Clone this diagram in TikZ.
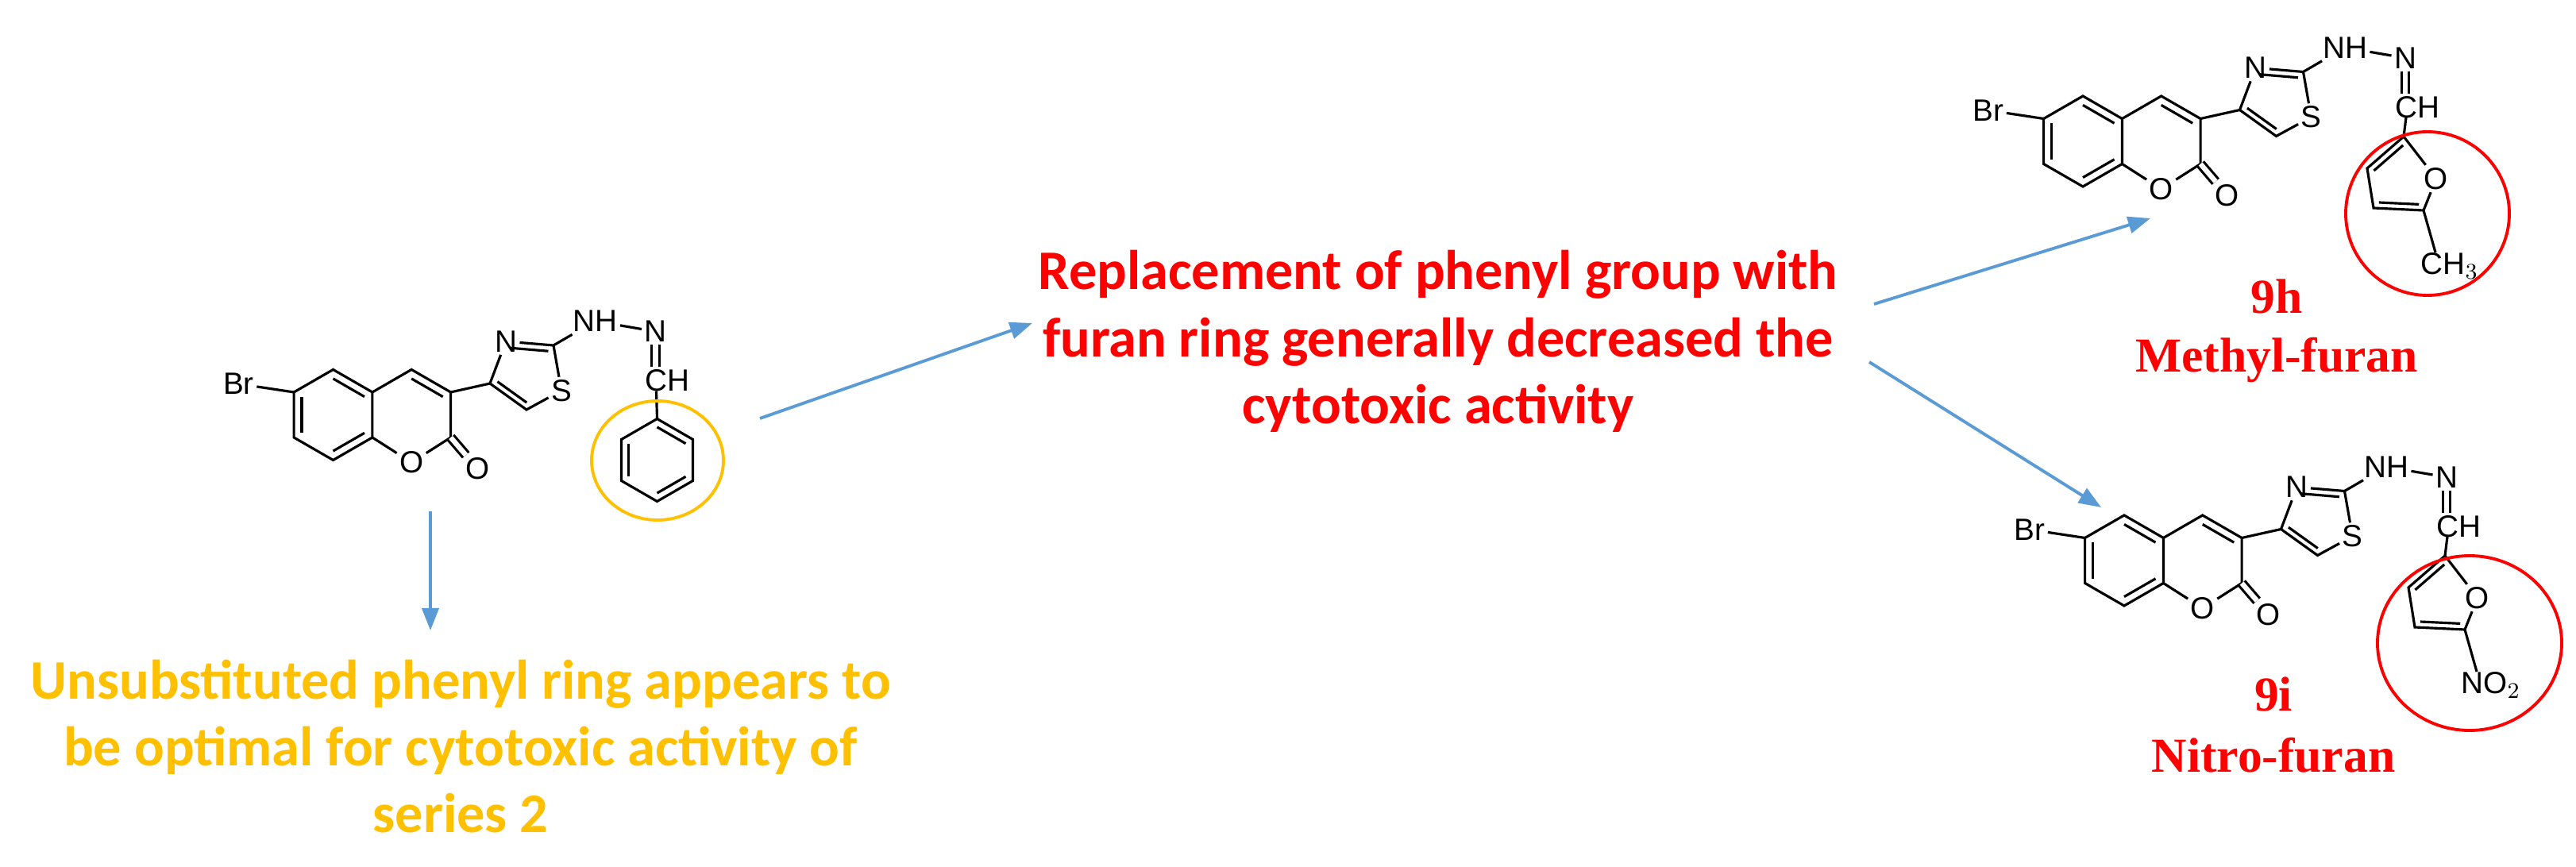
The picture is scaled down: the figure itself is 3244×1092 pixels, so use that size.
\documentclass[tikz,border=0pt]{standalone}
\usepackage{fontspec}
\setmainfont{Liberation Sans}
\newfontfamily\calfnt{Carlito}
\newfontfamily\tmsfnt{Liberation Serif}
\usetikzlibrary{calc,arrows.meta}
\definecolor{arrblue}{HTML}{5B9BD5}
\definecolor{orng}{HTML}{FFC000}
\definecolor{rd}{HTML}{FF0000}
\tikzset{
  bond/.style={line width=0.9pt,black},
  atom/.style={inner sep=0.8pt,font=\fontsize{11}{12}\selectfont},
  dbl/.style={line width=0.9pt,double,double distance=1.8pt},
  arr/.style={line width=1.1pt,arrblue,-{Triangle[length=8pt,width=6pt]}},
  ctext/.style={align=center,font=\calfnt\bfseries\fontsize{20}{24}\selectfont},
  lbl/.style={rd,font=\tmsfnt\bfseries\fontsize{17.5}{20}\selectfont}
}
\newcommand\inl[3]{\draw[bond] ($(#1)!0.2!(#3)$) -- ($(#2)!0.2!(#3)$);}
\newcommand\coremol[4]{%
\begin{scope}[shift={(#2,#3)}]
\coordinate (#1P) at (0,0);
\coordinate (#1A) at (0,-57);
\coordinate (#1B) at (-49.4,-28.5);
\coordinate (#1C) at (-49.4,28.5);
\coordinate (#1D) at (0,57);
\coordinate (#1E) at (49.4,28.5);
\coordinate (#1F) at (49.4,-28.5);
\coordinate (#1Q) at (98.7,0);
\coordinate (#1G) at (98.7,-57);
\coordinate (#1H) at (148.1,-28.5);
\coordinate (#1I) at (148.1,28.5);
\node[atom] (#1O1) at (98.7,60) {O};
\node[atom] (#1O2) at (182,68) {O};
\node[atom] (#1Br) at (-119,-39) {Br};
\coordinate (#1T4) at (197.5,-39.5);
\coordinate (#1n3) at (217.5,-92.5);
\node[atom] (#1N3) at (217.5,-92.5) {N};
\coordinate (#1T2) at (277.5,-87.5);
\node[atom] (#1S) at (287.5,-30.5) {S};
\coordinate (#1T5) at (243.5,-6.5);
\coordinate (#1TC) at (244.7,-51.3);
\node[atom] (#1NH) at (330,-118) {NH};
\node[atom] (#1N) at (406,-105) {N};
\node[atom] (#1CH) at (421,-43) {CH};
\coordinate (#1c) at (407,-30);
\draw[bond] (#1A)--(#1B)--(#1C)--(#1D)--(#1E)--(#1F)--cycle;
\draw[bond] (#1F)--(#1G)--(#1H)--(#1I)--(#1O1)--(#1E);
\inl{#1A}{#1F}{#1P}\inl{#1B}{#1C}{#1P}\inl{#1D}{#1E}{#1P}
\inl{#1G}{#1H}{#1Q}
\draw[bond] (#1B)--(#1Br);
\draw[dbl] (#1I)--(#1O2);
\draw[bond] (#1H)--(#1T4);
\draw[bond] (#1T4)--(#1N3)--(#1T2)--(#1S)--(#1T5)--(#1T4);
\inl{#1n3}{#1T2}{#1TC}\inl{#1T4}{#1T5}{#1TC}
\draw[bond] (#1T2)--(#1NH);
\draw[bond] (#1NH)--(#1N);
\draw[dbl] (#1N.south)--(#1N.south|-#1CH.north);
#4
\end{scope}}
\newcommand\phenylring[1]{%
\coordinate (#1R) at (408,57);
\foreach \k in {0,...,5}{\coordinate (#1r\k) at ($(#1R)+({-90+60*\k}:52)$);}
\draw[bond] (#1r0)--(#1r1)--(#1r2)--(#1r3)--(#1r4)--(#1r5)--cycle;
\inl{#1r0}{#1r1}{#1R}\inl{#1r2}{#1r3}{#1R}\inl{#1r4}{#1r5}{#1R}
\draw[bond] (#1c)--(#1r0);
\draw[orng,line width=1.1pt] (408.5,57.5) ellipse [x radius=83,y radius=75];}
\newcommand\furanring[5]{% prefix, substituent, circle x,y, radii
\coordinate (#1f2) at (404,-6);
\node[atom] (#1fO) at (445,47) {O};
\coordinate (#1f5) at (429,87);
\coordinate (#1f4) at (366,84);
\coordinate (#1f3) at (358,34);
\coordinate (#1fC) at (400,49);
\node[atom,anchor=north] (#1sub) at (462,137) {#2};
\draw[bond] (#1c)--(#1f2)--(#1fO)--(#1f5)--(#1f4)--(#1f3)--(#1f2);
\inl{#1f2}{#1f3}{#1fC}\inl{#1f4}{#1f5}{#1fC}
\draw[bond] (#1f5)--(444,140);
\draw[rd,line width=1.1pt] (#3,#4) ellipse [#5];}
\begin{document}
\begin{tikzpicture}[x=0.01cm,y=-0.01cm]
\useasboundingbox (0,0) rectangle (3244,1092);
\fill[white] (0,0) rectangle (3244,1092);
\coremol{L}{419.5}{522.5}{\phenylring{L}}
\coremol{T}{2623}{178}{\furanring{T}{CH$_3$}{434}{91}{x radius=103,y radius=103}}
\coremol{M}{2675}{706}{\furanring{M}{NO$_2$}{435}{104}{x radius=116,y radius=110}}
\node[ctext,rd] (mid) at (1811,430) {Replacement of phenyl group with\\furan ring generally decreased the\\cytotoxic activity};
\node[ctext,orng] (bot) at (580,940) {Unsubstituted phenyl ring appears to\\be optimal for cytotoxic activity of\\series 2};
\node[lbl] (l9h) at (2867,373) {9h};
\node[lbl] (mf) at (2867,453) {Methyl-furan};
\node[lbl] (l9i) at (2863,874) {9i};
\node[lbl] (nf) at (2863,951) {Nitro-furan};
\coordinate (a1) at (542,644); \coordinate (a2) at (542,794);
\coordinate (b1) at (957,527); \coordinate (b2) at (1300,407);
\coordinate (c1) at (2360,383); \coordinate (c2) at (2708,275);
\coordinate (d1) at (2354,456); \coordinate (d2) at (2646,639);
\draw[arr] (a1)--(a2);
\draw[arr] (b1)--(b2);
\draw[arr] (c1)--(c2);
\draw[arr] (d1)--(d2);
\end{tikzpicture}
\end{document}
